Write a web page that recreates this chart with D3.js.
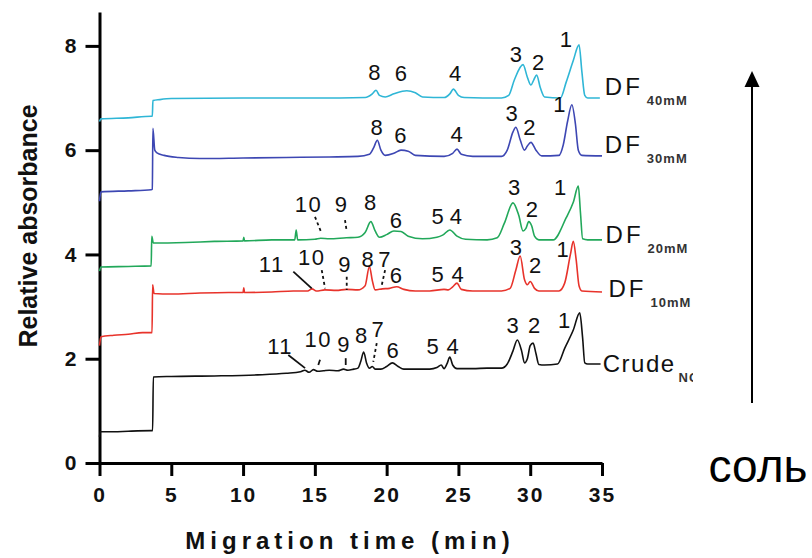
<!DOCTYPE html>
<html>
<head>
<meta charset="utf-8">
<title></title>
<style>
  body { margin: 0; background: #fff; }
  svg text { font-family: "Liberation Sans", Arial, sans-serif; }
</style>
</head>
<body>
<div class="chart"></div>
<script src="https://cdn.jsdelivr.net/npm/d3@7/dist/d3.min.js" charset="utf-8"></script>
<script type="text/javascript">
// electropherograms, [time (min), relative absorbance]
var crude = [[0,0.5],[0.05,0.6],[1,0.6],[2,0.61],[3.6,0.62],[3.7,0.62],[3.75,1.65],[5,1.66],[8,1.67],[11,1.69],[13,1.72],[14,1.75],
  [14.3,1.78],[14.6,1.74],[14.9,1.79],[15.2,1.76],[15.6,1.77],[16,1.78],[16.6,1.77],[17,1.8],[17.3,1.78],[17.7,1.8],[18,1.82],
  [18.2,1.95],[18.4,2.13],[18.6,1.92],[18.8,1.82],[19,1.85],[19.2,1.8],[19.6,1.8],[20,1.85],[20.4,1.92],[20.8,1.85],[21.2,1.8],
  [22,1.8],[23,1.8],[23.5,1.83],[23.8,1.88],[24,1.81],[24.2,1.9],[24.4,2.03],[24.6,1.88],[24.9,1.81],[26,1.81],[27,1.82],[28,1.82],
  [28.4,1.9],[28.8,2.15],[29.1,2.36],[29.4,2.15],[29.6,1.92],[29.8,2.0],[30,2.25],[30.2,2.3],[30.4,2.1],[30.6,1.89],[31,1.88],
  [31.9,1.9],[32.4,2.2],[33,2.55],[33.45,2.88],[33.65,2.4],[33.8,1.92],[34,1.9],[34.9,1.9]];
var df10 = [[0,2.25],[0.1,2.42],[1,2.45],[2,2.47],[3,2.5],[3.66,2.5],[3.7,3.42],[3.8,3.25],[5,3.24],[7,3.26],[9,3.27],[10,3.27],
  [10.05,3.36],[10.1,3.27],[12,3.28],[13.5,3.3],[14.5,3.3],[14.8,3.34],[15.1,3.3],[15.7,3.32],[16.5,3.31],[17.2,3.33],[18,3.32],
  [18.5,3.4],[18.8,3.77],[19,3.5],[19.2,3.32],[19.7,3.34],[20.2,3.35],[20.7,3.38],[21.2,3.33],[22,3.3],[23,3.3],[24,3.33],[24.3,3.32],
  [24.6,3.38],[24.9,3.45],[25.2,3.33],[26,3.3],[27,3.3],[28,3.3],[28.6,3.35],[29,3.7],[29.3,3.97],[29.6,3.52],[29.8,3.42],[30,3.48],
  [30.3,3.35],[30.6,3.3],[32,3.3],[32.4,3.45],[32.8,4.0],[33,4.25],[33.2,3.9],[33.4,3.4],[33.6,3.3],[35,3.28]];
var df20 = [[0,3.68],[0.1,3.76],[2,3.77],[3.6,3.78],[3.64,4.35],[3.75,4.22],[6,4.23],[8,4.25],[10,4.26],[10.05,4.33],[10.1,4.26],
  [12,4.28],[13.6,4.28],[13.7,4.47],[13.8,4.28],[15,4.29],[15.4,4.31],[16,4.3],[17.2,4.32],[18,4.33],[18.5,4.42],[18.9,4.63],
  [19.2,4.45],[19.5,4.33],[20,4.38],[20.5,4.45],[21,4.44],[21.5,4.35],[22.5,4.3],[23.5,4.33],[23.9,4.37],[24.4,4.47],[24.9,4.35],
  [25.5,4.29],[27,4.28],[27.7,4.32],[28.2,4.6],[28.8,4.99],[29.2,4.75],[29.5,4.45],[29.7,4.5],[29.9,4.63],[30.1,4.55],[30.3,4.35],
  [30.6,4.28],[31.6,4.28],[32.5,4.7],[33,5.0],[33.35,5.31],[33.5,4.8],[33.65,4.3],[34,4.28],[35,4.28]];
var df30 = [[0,5.02],[0.1,5.2],[2,5.22],[3.6,5.24],[3.68,5.25],[3.72,6.42],[3.85,6.0],[4,5.95],[4.5,5.9],[5.5,5.86],[7,5.84],
  [10,5.85],[13,5.86],[16,5.87],[18,5.88],[18.8,5.92],[19.1,6.05],[19.35,6.19],[19.6,6.0],[19.9,5.9],[20.5,5.94],[21,6.0],[21.5,5.98],
  [22,5.9],[24,5.88],[24.6,5.94],[24.9,6.02],[25.2,5.92],[26,5.88],[28,5.88],[28.4,6.0],[28.8,6.35],[29,6.44],[29.3,6.2],[29.6,6.0],
  [29.8,6.08],[30.05,6.15],[30.4,6.0],[30.8,5.89],[32,5.9],[32.3,6.1],[32.6,6.55],[32.9,6.87],[33.15,6.5],[33.35,6.0],[33.6,5.9],[35,5.89]];
var df40 = [[0,6.55],[0.1,6.6],[2,6.62],[3.6,6.65],[3.68,6.65],[3.72,6.95],[4.2,6.97],[5,6.99],[10,7.0],[15,7.0],[18.5,7.01],[19,7.08],
  [19.26,7.15],[19.5,7.05],[19.9,7.02],[20.5,7.08],[21.4,7.14],[22,7.1],[22.5,7.02],[24,7.01],[24.4,7.08],[24.65,7.17],[25,7.05],
  [25.4,7.01],[28,7.0],[28.5,7.05],[28.9,7.35],[29.5,7.64],[29.8,7.4],[30.05,7.25],[30.25,7.35],[30.45,7.44],[30.7,7.2],[31,7.02],
  [32.1,7.0],[32.5,7.3],[33,7.72],[33.4,8.02],[33.6,7.5],[33.8,7.05],[34,7.0],[34.85,7.0]];

var seriesData   = [crude, df10, df20, df30, df40];
var seriesColors = ["#111111", "#e8332b", "#22a85a", "#3d47b3", "#2fb6d6"];
var seriesNames  = ["Crude", "DF", "DF", "DF", "DF"];
var seriesSubs   = ["NC", "10mM", "20mM", "30mM", "40mM"];
var seriesNameAt = [[35.05, 1.75], [35.45, 3.19], [35.25, 4.21], [35.2, 5.94], [35.2, 7.06]];

// peak numbers: [label, time, absorbance] of text baseline centre
var peaksCrude = [["11",12.58,2.1],["10",15.24,2.23],["9",17.03,2.13],["8",18.27,2.3],["7",19.42,2.42],["6",20.47,2.01],
  ["5",23.25,2.1],["4",24.64,2.1],["3",28.82,2.49],["2",30.33,2.49],["1",32.42,2.58]];
var peaks10 = [["11",12.0,3.67],["10",14.78,3.8],["9",17.1,3.67],["8",18.73,3.76],["7",19.89,3.76],["6",20.7,3.45],
  ["5",23.6,3.48],["4",24.99,3.48],["3",29.06,3.99],["2",30.4,3.64],["1",32.31,3.96]];
var peaks20 = [["10",14.55,4.82],["9",16.87,4.82],["8",18.91,4.85],["6",20.7,4.5],["5",23.6,4.58],["4",24.88,4.58],
  ["3",28.94,5.14],["2",30.17,4.72],["1",32.14,5.14]];
var peaks30 = [["8",19.35,6.29],["6",21.0,6.13],["4",24.92,6.16],["3",28.75,6.55],["2",29.99,6.29],["1",32.08,6.74]];
var peaks40 = [["8",19.19,7.35],["6",21.05,7.33],["4",24.83,7.33],["3",29.06,7.7],["2",30.61,7.54],["1",32.54,7.98]];
var peakLabels = peaksCrude.concat(peaks10, peaks20, peaks30, peaks40);

// leader lines: [t1, a1, t2, a2, dashed]
var leaders = [[15.01,4.72,15.48,4.4,1],[17.1,4.66,17.22,4.44,1],
  [13.5,3.67,14.78,3.35,0],[15.48,3.7,15.71,3.35,1],[17.22,3.57,17.22,3.32,1],[19.89,3.7,19.66,3.41,1],
  [13.15,2.07,14.32,1.82,0],[15.36,1.98,15.24,1.88,0],[17.15,2.01,17.15,1.88,0],[19.31,2.3,19.07,1.94,1]];

var xMajor = [0, 5, 10, 15, 20, 25, 30, 35];
var xMinor = [2.5, 7.5, 12.5, 17.5, 22.5, 27.5, 32.5];
var yMajor = [0, 2, 4, 6, 8];
var yMinor = [1, 3, 5, 7];

var width = 812, height = 558;
var svg = d3.select(".chart").append("svg").attr("width", width).attr("height", height);

var x = d3.scaleLinear().domain([0, 35]).range([99.5, 602]);
var y = d3.scaleLinear().domain([0, 8.65]).range([463, 12]);

// axes
var gx = svg.append("g").attr("transform", "translate(0," + y(0) + ")");
gx.call(d3.axisBottom(x).tickValues(xMinor).tickSize(8).tickFormat("").tickSizeOuter(0));
gx.call(d3.axisBottom(x).tickValues(xMajor).tickSize(13).tickSizeOuter(0).tickPadding(6));
var gy = svg.append("g").attr("transform", "translate(" + x(0) + ",0)");
gy.call(d3.axisLeft(y).tickValues(yMinor).tickSize(8).tickFormat("").tickSizeOuter(0));
gy.call(d3.axisLeft(y).tickValues(yMajor).tickSize(14).tickSizeOuter(0).tickPadding(9));
svg.selectAll(".domain").attr("stroke", "#000").attr("stroke-width", 3);
svg.selectAll(".tick line").attr("stroke", "#000").attr("stroke-width", 3);
gx.selectAll("text").attr("font-size", 21).attr("font-weight", "bold").attr("letter-spacing", 2)
  .attr("fill", "#111").attr("dy", "0.95em");
gy.selectAll("text").attr("font-size", 21).attr("font-weight", "bold").attr("fill", "#111");

svg.append("text").attr("transform", "translate(37,226) rotate(-90)")
  .attr("text-anchor", "middle").attr("font-size", 25).attr("font-weight", "bold").attr("fill", "#111")
  .text("Relative absorbance");
svg.append("text").attr("x", 350).attr("y", 549)
  .attr("text-anchor", "middle").attr("font-size", 24).attr("font-weight", "bold").attr("letter-spacing", 5)
  .attr("fill", "#111").text("Migration time (min)");

// traces
var line = d3.line().x(function(d) { return x(d[0]); }).y(function(d) { return y(d[1]); }).curve(d3.curveMonotoneX);
svg.selectAll(".trace").data(seriesData).enter().append("path")
  .attr("class", "trace")
  .attr("d", line)
  .attr("fill", "none")
  .attr("stroke", function(d, i) { return seriesColors[i]; })
  .attr("stroke-width", 1.6)
  .attr("stroke-linejoin", "round");

// series names
svg.append("clipPath").attr("id", "cut").append("rect").attr("x", 0).attr("y", 0).attr("width", 693).attr("height", height);
seriesNames.forEach(function(n, i) {
  var t = svg.append("text")
    .attr("x", x(seriesNameAt[i][0])).attr("y", y(seriesNameAt[i][1]))
    .attr("font-size", 24).attr("letter-spacing", i == 0 ? 1.5 : 3).attr("fill", "#111")
    .attr("clip-path", "url(#cut)");
  t.append("tspan").text(n);
  t.append("tspan").attr("dx", i == 0 ? 3 : 4).attr("dy", 10).attr("font-size", 13).attr("letter-spacing", 1)
    .attr("font-weight", 600).attr("fill", "#333").text(seriesSubs[i]);
});

// peak numbers
svg.selectAll(".peak").data(peakLabels).enter().append("text")
  .attr("class", "peak")
  .attr("x", function(d) { return x(d[1]); })
  .attr("y", function(d) { return y(d[2]); })
  .attr("text-anchor", "middle").attr("font-size", 22).attr("letter-spacing", 1.5).attr("fill", "#111")
  .text(function(d) { return d[0]; });

svg.selectAll(".leader").data(leaders).enter().append("line")
  .attr("class", "leader")
  .attr("x1", function(d) { return x(d[0]); }).attr("y1", function(d) { return y(d[1]); })
  .attr("x2", function(d) { return x(d[2]); }).attr("y2", function(d) { return y(d[3]); })
  .attr("stroke", "#111").attr("stroke-width", 1.8)
  .attr("stroke-dasharray", function(d) { return d[4] ? "3,3" : null; });

// salt arrow
svg.append("line").attr("x1", 752).attr("y1", 403).attr("x2", 752).attr("y2", 85)
  .attr("stroke", "#000").attr("stroke-width", 2);
svg.append("path").attr("d", d3.line()([[744.5, 87], [752, 71], [759.5, 87]]) + "Z").attr("fill", "#000");
svg.append("text").attr("x", 758).attr("y", 482).attr("text-anchor", "middle")
  .attr("font-size", 46).attr("fill", "#000").text("соль");
</script>
</body>
</html>
